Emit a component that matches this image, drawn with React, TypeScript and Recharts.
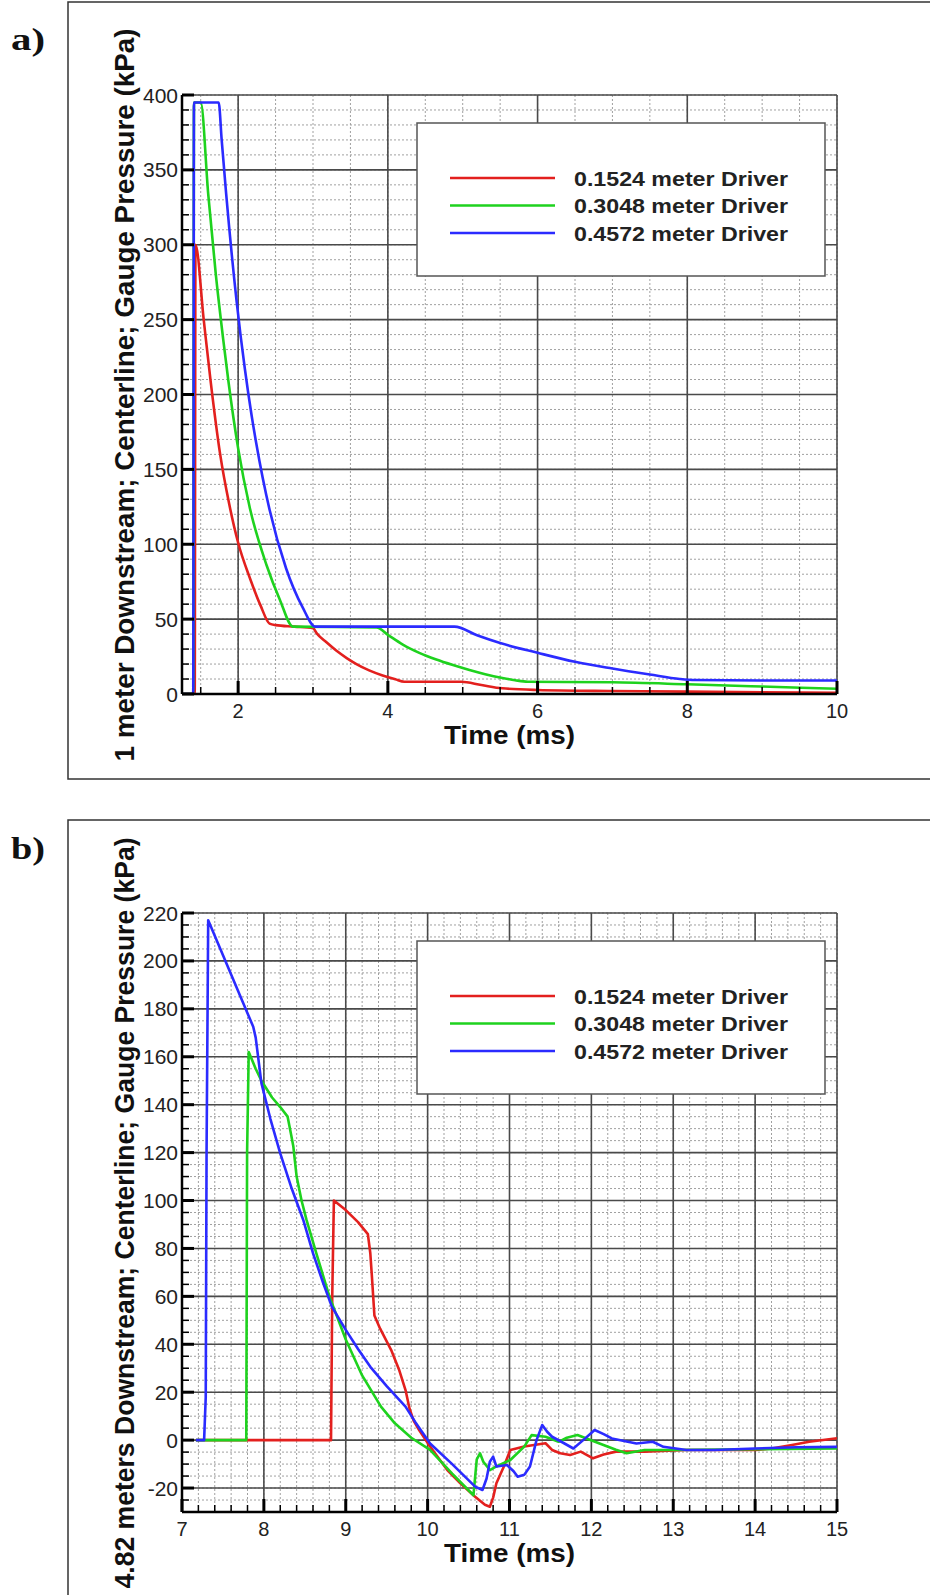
import React from 'react';
import { LineChart, Line, XAxis, YAxis, CartesianGrid } from 'recharts';

// ---------- series meta ----------
const SERIES_NAMES = ['0.1524 meter Driver', '0.3048 meter Driver', '0.4572 meter Driver'];
const SERIES_COLORS = ['#e3201e', '#1ed21e', '#2b2bff'];

// ---------- panel a : 1 m downstream ----------
const A_X_DOMAIN: [number, number] = [1.25, 10];
const A_Y_DOMAIN: [number, number] = [0, 400];
const A_X_LABELS = [2, 4, 6, 8, 10];
const A_Y_LABELS = [0, 50, 100, 150, 200, 250, 300, 350, 400];
const A_X_STEP = 0.5;
const A_Y_STEP = 10;

const A_RED: [number, number][] = [
  [1.25, 0], [1.42, 0], [1.43, 300], [1.54, 250], [1.63, 210], [1.76, 160], [1.88, 127], [2.0, 101],
  [2.16, 77], [2.3, 59], [2.42, 47], [2.5, 46], [2.75, 45], [3.0, 44], [3.05, 40.5], [3.18, 34.5],
  [3.31, 29], [3.45, 24], [3.58, 20], [3.75, 15.8], [3.93, 12.4], [4.1, 9.8], [4.22, 8.2],
  [4.98, 8.2], [5.25, 6], [5.53, 3.8], [6.0, 2.7], [7.0, 2], [8.0, 1.6], [9.0, 1.2], [10.0, 0.8],
];
const A_GREEN: [number, number][] = [
  [1.25, 0], [1.4, 0], [1.41, 395], [1.5, 395], [1.6, 334], [1.7, 281], [1.8, 237], [1.867, 210],
  [2.0, 164], [2.157, 124], [2.38, 86], [2.557, 63], [2.733, 45], [3.85, 44.5], [4.0, 39.5], [4.2, 33],
  [4.42, 27.5], [4.647, 23], [4.87, 19.3], [5.09, 16], [5.3, 13.2], [5.53, 10.7], [5.7, 9.2], [5.87, 8.2],
  [7.0, 7.8], [8.0, 6.5], [9.0, 5], [10.0, 3.5],
];
const A_BLUE: [number, number][] = [
  [1.25, 0], [1.4, 0], [1.41, 395], [1.74, 395], [1.78, 370], [1.84, 334], [1.98, 262], [2.09, 217],
  [2.18, 186], [2.24, 168], [2.42, 123], [2.64, 84], [2.86, 58], [3.03, 45], [4.89, 45], [5.2, 39],
  [5.5, 34], [6.0, 27.5], [6.5, 21.5], [7.0, 17], [7.5, 13], [7.9, 10], [8.1, 9.3], [9.0, 9], [10.0, 9],
];

// ---------- panel b : 4.82 m downstream ----------
const B_X_DOMAIN: [number, number] = [7, 15];
const B_Y_DOMAIN: [number, number] = [-30, 220];
const B_X_LABELS = [7, 8, 9, 10, 11, 12, 13, 14, 15];
const B_Y_LABELS = [-20, 0, 20, 40, 60, 80, 100, 120, 140, 160, 180, 200, 220];
const B_X_STEP = 0.2;
const B_Y_STEP = 5;

const B_RED: [number, number][] = [
  [7.17, 0], [8.82, 0], [8.835, 60], [8.855, 100], [9.0, 96], [9.15, 91], [9.27, 86], [9.3, 78],
  [9.32, 68], [9.35, 52], [9.42, 46.5], [9.555, 37.6], [9.65, 29.5], [9.73, 20.9], [9.78, 13],
  [9.83, 8], [9.9, 4], [10.03, -2.7], [10.24, -12.5], [10.4, -18], [10.58, -23.6], [10.7, -27],
  [10.76, -27.8], [10.8, -24], [10.84, -18], [10.93, -11.1], [11.01, -4.1], [11.18, -2.7], [11.3, -2],
  [11.44, -1.3], [11.52, -4.1], [11.62, -5.5], [11.74, -6.2], [11.87, -4.8], [12.02, -7.6], [12.15, -6],
  [12.3, -4.8], [12.65, -4.8], [13.16, -4.1], [13.6, -4.1], [14.01, -4.1], [14.2, -3.5], [14.45, -2],
  [14.66, -0.7], [15.0, 0.8],
];
const B_GREEN: [number, number][] = [
  [7.17, 0], [7.785, 0], [7.795, 120], [7.815, 162], [7.9, 155], [7.97, 150], [8.1, 143], [8.2, 139],
  [8.29, 135], [8.33, 128], [8.36, 122.5], [8.4, 110], [8.46, 100], [8.52, 92], [8.64, 78], [8.8, 60],
  [9.0, 42], [9.2, 27], [9.43, 14], [9.6, 7], [9.8, 1], [10.03, -4.1], [10.3, -14], [10.56, -23],
  [10.6, -8], [10.64, -5.5], [10.68, -9], [10.76, -12.5], [10.84, -11], [11.01, -8.3], [11.18, -2.7],
  [11.27, 2.1], [11.44, 1.4], [11.6, -0.7], [11.7, 1], [11.83, 2.1], [12.1, -1.4], [12.3, -4],
  [12.43, -5.5], [12.65, -4.1], [13.0, -4.1], [14.0, -3.8], [15.0, -3.5],
];
const B_BLUE: [number, number][] = [
  [7.17, 0], [7.27, 0], [7.29, 18], [7.3, 120], [7.32, 217], [7.87, 172.5], [7.9, 168], [7.97, 149],
  [8.08, 134], [8.2, 119.7], [8.34, 105], [8.48, 92], [8.6, 78], [8.72, 66], [8.83, 55.7], [9.0, 46],
  [9.15, 38], [9.3, 30.6], [9.5, 22.5], [9.73, 14], [9.85, 7.5], [10.03, -1.4], [10.3, -10],
  [10.58, -19.4], [10.67, -20.8], [10.72, -16], [10.76, -9], [10.8, -6.9], [10.84, -11], [10.97, -10.4],
  [11.05, -13], [11.1, -15.3], [11.18, -14.5], [11.25, -11], [11.33, 0], [11.4, 6.3], [11.46, 3.5],
  [11.52, 1.4], [11.65, -1], [11.78, -3.5], [11.9, 0], [12.04, 4.2], [12.15, 2.5], [12.25, 0.7],
  [12.55, -1.4], [12.75, -0.7], [12.88, -2.8], [13.16, -4.1], [13.5, -4.1], [14.0, -3.5], [14.5, -3],
  [15.0, -2.8],
];

const A_TITLE_Y = '1 meter Downstream; Centerline; Gauge Pressure (kPa)';
const B_TITLE_Y = '4.82 meters Downstream; Centerline; Gauge Pressure (kPa)';
const TITLE_X = 'Time (ms)';

// ---------- helpers ----------
const range = (a: number, b: number, s: number) => {
  const out: number[] = [];
  for (let i = 0; a + i * s <= b + 1e-9; i++) out.push(Number((a + i * s).toFixed(4)));
  return out;
};
const toPts = (arr: [number, number][]) => arr.map(([t, p]) => ({ t, p }));
const isIn = (v: number, list: number[]) => list.some((m) => Math.abs(m - v) < 1e-6);

const SANS = '"Liberation Sans", Arial, Helvetica, sans-serif';
const SERIF = '"Liberation Serif", "Times New Roman", serif';

function makeXTick(majors: number[]) {
  return (props: any) => {
    const { x, y, payload } = props;
    const v = payload.value as number;
    const major = isIn(v, majors);
    return (
      <g>
        <line x1={x} x2={x} y1={y} y2={y - (major ? 13 : 7)} stroke="#000" strokeWidth={major ? 3 : 1.5} />
        {major && (
          <text x={x} y={y + 24} textAnchor="middle" fontFamily={SANS} fontSize={20} fill="#222">
            {v}
          </text>
        )}
      </g>
    );
  };
}
function makeYTick(majors: number[]) {
  return (props: any) => {
    const { x, y, payload } = props;
    const v = payload.value as number;
    const major = isIn(v, majors);
    return (
      <g>
        <line x1={x} x2={x + (major ? 12 : 7)} y1={y} y2={y} stroke="#000" strokeWidth={major ? 3 : 1.5} />
        {major && (
          <text x={x - 4} y={y + 7.5} textAnchor="end" fontFamily={SANS} fontSize={21} fill="#222">
            {v}
          </text>
        )}
      </g>
    );
  };
}

type PanelProps = {
  top: number;
  xDomain: [number, number];
  yDomain: [number, number];
  xLabels: number[];
  yLabels: number[];
  xStep: number;
  yStep: number;
  xMinorStart: number;
  curve: 'monotone' | 'linear';
  series: [number, number][][];
};

function Panel({ top, xDomain, yDomain, xLabels, yLabels, xStep, yStep, xMinorStart, curve, series }: PanelProps) {
  const xTicks = range(xMinorStart, xDomain[1], xStep);
  const yTicks = range(yDomain[0], yDomain[1], yStep);
  return (
    <div style={{ position: 'absolute', left: 0, top, width: 930, height: 800 }}>
      <LineChart width={930} height={800} margin={{ top: 95, right: 93, bottom: 46, left: 122 }}>
        <CartesianGrid
          horizontalValues={yTicks}
          verticalValues={xTicks}
          stroke="#a0a0a0"
          strokeDasharray="2 2"
          strokeWidth={1}
        />
        <CartesianGrid horizontalValues={yLabels} verticalValues={xLabels} stroke="#4a4a4a" strokeWidth={1.6} />
        <XAxis
          type="number"
          dataKey="t"
          domain={xDomain}
          allowDataOverflow
          ticks={xTicks}
          interval={0}
          height={60}
          tickSize={0}
          tickMargin={0}
          tickLine={false}
          axisLine={{ stroke: '#000', strokeWidth: 2.5 }}
          tick={makeXTick(xLabels)}
        />
        <YAxis
          type="number"
          dataKey="p"
          domain={yDomain}
          allowDataOverflow
          ticks={yTicks}
          interval={0}
          width={60}
          tickSize={0}
          tickMargin={0}
          tickLine={false}
          axisLine={{ stroke: '#000', strokeWidth: 2.5 }}
          tick={makeYTick(yLabels)}
        />
        {series.map((s, i) => (
          <Line
            key={SERIES_NAMES[i]}
            data={toPts(s)}
            dataKey="p"
            name={SERIES_NAMES[i]}
            type={curve}
            stroke={SERIES_COLORS[i]}
            strokeWidth={2.6}
            strokeLinejoin="round"
            dot={false}
            isAnimationActive={false}
          />
        ))}
      </LineChart>
    </div>
  );
}

function LegendBox({ top }: { top: number }) {
  const rows = SERIES_NAMES.map((n, i) => ({ n, c: SERIES_COLORS[i], y: top + 83 + i * 27.5 }));
  return (
    <g>
      <rect x={417} y={top + 28} width={408} height={153} fill="#fff" stroke="#555" strokeWidth={1.5} />
      {rows.map((r) => (
        <g key={r.n}>
          <line x1={450} x2={555} y1={r.y} y2={r.y} stroke={r.c} strokeWidth={2.6} />
          <text
            x={574}
            y={r.y + 7.5}
            fontFamily={SANS}
            fontWeight="bold"
            fontSize={21}
            fill="#222"
            textLength={214}
            lengthAdjust="spacingAndGlyphs"
          >
            {r.n}
          </text>
        </g>
      ))}
    </g>
  );
}

export default function App() {
  return (
    <div
      style={{
        position: 'absolute',
        left: 0,
        top: 0,
        width: 930,
        height: 1595,
        overflow: 'hidden',
        background: '#fff',
      }}
    >
      <Panel
        top={0}
        xDomain={A_X_DOMAIN}
        yDomain={A_Y_DOMAIN}
        xLabels={A_X_LABELS}
        yLabels={A_Y_LABELS}
        xStep={A_X_STEP}
        yStep={A_Y_STEP}
        xMinorStart={1.5}
        curve="monotone"
        series={[A_RED, A_GREEN, A_BLUE]}
      />
      <Panel
        top={818}
        xDomain={B_X_DOMAIN}
        yDomain={B_Y_DOMAIN}
        xLabels={B_X_LABELS}
        yLabels={B_Y_LABELS}
        xStep={B_X_STEP}
        yStep={B_Y_STEP}
        xMinorStart={7}
        curve="linear"
        series={[B_RED, B_GREEN, B_BLUE]}
      />
      <svg
        width={930}
        height={1595}
        style={{ position: 'absolute', left: 0, top: 0, pointerEvents: 'none' }}
      >
        <rect x={68} y={2} width={900} height={777} fill="none" stroke="#333" strokeWidth={1.5} />
        <rect x={68} y={820} width={900} height={800} fill="none" stroke="#333" strokeWidth={1.5} />
        <text x={11} y={50} fontFamily={SERIF} fontWeight="bold" fontSize={32} fill="#111" textLength={34} lengthAdjust="spacingAndGlyphs">
          a)
        </text>
        <text x={11} y={859} fontFamily={SERIF} fontWeight="bold" fontSize={32} fill="#111" textLength={34} lengthAdjust="spacingAndGlyphs">
          b)
        </text>
        <text
          transform="translate(134, 395) rotate(-90)"
          textAnchor="middle"
          fontFamily={SANS}
          fontWeight="bold"
          fontSize={27}
          fill="#111"
          textLength={733}
          lengthAdjust="spacingAndGlyphs"
        >
          {A_TITLE_Y}
        </text>
        <text
          transform="translate(134, 1213) rotate(-90)"
          textAnchor="middle"
          fontFamily={SANS}
          fontWeight="bold"
          fontSize={27}
          fill="#111"
          textLength={751}
          lengthAdjust="spacingAndGlyphs"
        >
          {B_TITLE_Y}
        </text>
        <text x={509.5} y={744} textAnchor="middle" fontFamily={SANS} fontWeight="bold" fontSize={26} fill="#111" textLength={131} lengthAdjust="spacingAndGlyphs">
          {TITLE_X}
        </text>
        <text x={509.5} y={1562} textAnchor="middle" fontFamily={SANS} fontWeight="bold" fontSize={26} fill="#111" textLength={131} lengthAdjust="spacingAndGlyphs">
          {TITLE_X}
        </text>
        <LegendBox top={95} />
        <LegendBox top={913} />
      </svg>
    </div>
  );
}
